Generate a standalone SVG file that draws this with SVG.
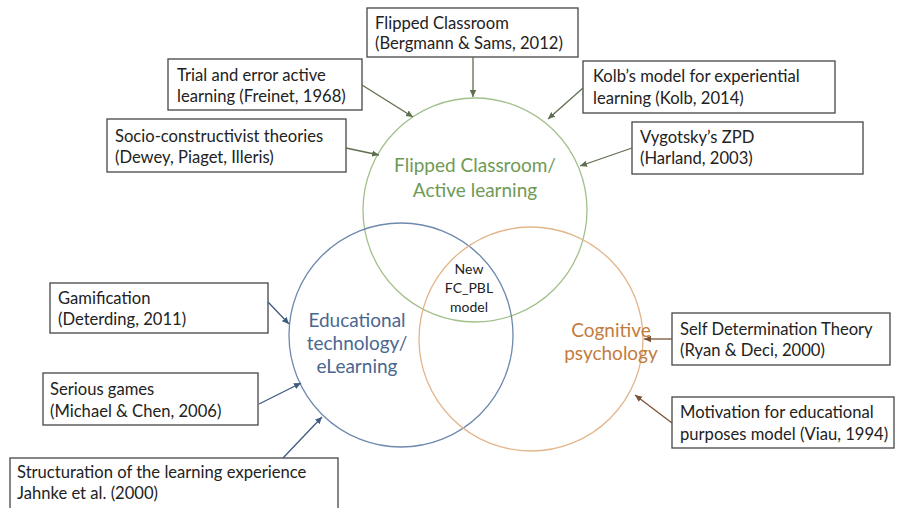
<svg xmlns="http://www.w3.org/2000/svg" width="898" height="508" viewBox="0 0 898 508">
<defs>
<style>
.box{fill:#fff;stroke:#454545;stroke-width:1.3}
.bt{font-family:Lato,"Liberation Sans",sans-serif;font-size:16.6px;fill:#222}
.ct{font-family:Lato,"Liberation Sans",sans-serif;font-size:19px;text-anchor:middle}
.mt{font-family:Lato,"Liberation Sans",sans-serif;font-size:14px;fill:#222;text-anchor:middle}
.cg{stroke:#5e6f50;stroke-width:1.3;fill:none}
.cb{stroke:#3f5b80;stroke-width:1.3;fill:none}
.co{stroke:#7a5236;stroke-width:1.3;fill:none}
</style>
<marker id="ag" viewBox="0 0 8 8" refX="7" refY="4" markerWidth="8" markerHeight="8" markerUnits="userSpaceOnUse" orient="auto"><path d="M0,0.8 L7,4 L0,7.2 z" fill="#5e6f50"/></marker>
<marker id="ab" viewBox="0 0 8 8" refX="7" refY="4" markerWidth="8" markerHeight="8" markerUnits="userSpaceOnUse" orient="auto"><path d="M0,0.8 L7,4 L0,7.2 z" fill="#3f5b80"/></marker>
<marker id="ao" viewBox="0 0 8 8" refX="7" refY="4" markerWidth="8" markerHeight="8" markerUnits="userSpaceOnUse" orient="auto"><path d="M0,0.8 L7,4 L0,7.2 z" fill="#7a5236"/></marker>
</defs>
<rect width="898" height="508" fill="#fff"/>

<g id="circle-flipped">
<circle cx="475" cy="210" r="112" fill="none" stroke="#a3c08c" stroke-width="1.3"/>
<text class="ct" x="475" y="172" fill="#6e9a55">Flipped Classroom/</text>
<text class="ct" x="475" y="197" fill="#6e9a55">Active learning</text>
</g>
<g id="circle-edtech">
<circle cx="401" cy="335" r="112" fill="none" stroke="#6d89ad" stroke-width="1.3"/>
<text class="ct" x="357" y="327" fill="#4a6790">Educational</text>
<text class="ct" x="357" y="350" fill="#4a6790">technology/</text>
<text class="ct" x="357" y="373" fill="#4a6790">eLearning</text>
</g>
<g id="circle-cognitive">
<circle cx="531" cy="339" r="112" fill="none" stroke="#e3b58a" stroke-width="1.3"/>
<text class="ct" x="611" y="337" fill="#c27c3e">Cognitive</text>
<text class="ct" x="611" y="360" fill="#c27c3e">psychology</text>
</g>
<g id="center">
<text class="mt" x="469" y="274">New</text>
<text class="mt" x="469" y="293">FC_PBL</text>
<text class="mt" x="469" y="312">model</text>
</g>

<g id="box-flipped">
<rect class="box" x="367" y="8" width="211" height="49"/>
<text class="bt" x="375" y="29">Flipped Classroom</text>
<text class="bt" x="375" y="49">(Bergmann &amp; Sams, 2012)</text>
</g>
<g id="box-trial">
<rect class="box" x="168" y="59" width="194" height="51"/>
<text class="bt" x="177" y="81">Trial and error active</text>
<text class="bt" x="177" y="102">learning (Freinet, 1968)</text>
</g>
<g id="box-socio">
<rect class="box" x="107" y="119" width="239" height="53"/>
<text class="bt" x="115" y="142">Socio-constructivist theories</text>
<text class="bt" x="115" y="163">(Dewey, Piaget, Illeris)</text>
</g>
<g id="box-kolb">
<rect class="box" x="583" y="61" width="252" height="52"/>
<text class="bt" x="593" y="82">Kolb’s model for experiential</text>
<text class="bt" x="593" y="104">learning (Kolb, 2014)</text>
</g>
<g id="box-vygotsky">
<rect class="box" x="632" y="122" width="231" height="52"/>
<text class="bt" x="640" y="143">Vygotsky’s ZPD</text>
<text class="bt" x="640" y="164">(Harland, 2003)</text>
</g>
<g id="box-gamification">
<rect class="box" x="50" y="283" width="218" height="50"/>
<text class="bt" x="58" y="304">Gamification</text>
<text class="bt" x="58" y="325">(Deterding, 2011)</text>
</g>
<g id="box-serious">
<rect class="box" x="43" y="373" width="215" height="52"/>
<text class="bt" x="50" y="395">Serious games</text>
<text class="bt" x="50" y="417">(Michael &amp; Chen, 2006)</text>
</g>
<g id="box-structuration">
<rect class="box" x="10" y="458" width="328" height="60"/>
<text class="bt" x="17" y="478">Structuration of the learning experience</text>
<text class="bt" x="17" y="499">Jahnke et al. (2000)</text>
</g>
<g id="box-sdt">
<rect class="box" x="672" y="313" width="218" height="52"/>
<text class="bt" x="680" y="335">Self Determination Theory</text>
<text class="bt" x="680" y="356">(Ryan &amp; Deci, 2000)</text>
</g>
<g id="box-motivation">
<rect class="box" x="672" y="397" width="222" height="51"/>
<text class="bt" x="680" y="418">Motivation for educational</text>
<text class="bt" x="680" y="440">purposes model (Viau, 1994)</text>
</g>

<g id="connectors">
<line class="cg" x1="473" y1="57" x2="473" y2="97" marker-end="url(#ag)"/>
<line class="cg" x1="362" y1="85" x2="413" y2="117" marker-end="url(#ag)"/>
<line class="cg" x1="346" y1="148" x2="379" y2="155" marker-end="url(#ag)"/>
<line class="cg" x1="583" y1="88" x2="548" y2="119" marker-end="url(#ag)"/>
<line class="cg" x1="632" y1="148" x2="580" y2="166" marker-end="url(#ag)"/>
<line class="cb" x1="268" y1="302" x2="289" y2="324" marker-end="url(#ab)"/>
<line class="cb" x1="259" y1="404" x2="301" y2="383" marker-end="url(#ab)"/>
<line class="cb" x1="283" y1="458" x2="322" y2="417" marker-end="url(#ab)"/>
<line class="co" x1="672" y1="339" x2="644" y2="339" marker-end="url(#ao)"/>
<line class="co" x1="672" y1="423" x2="635" y2="395" marker-end="url(#ao)"/>
</g>
</svg>
